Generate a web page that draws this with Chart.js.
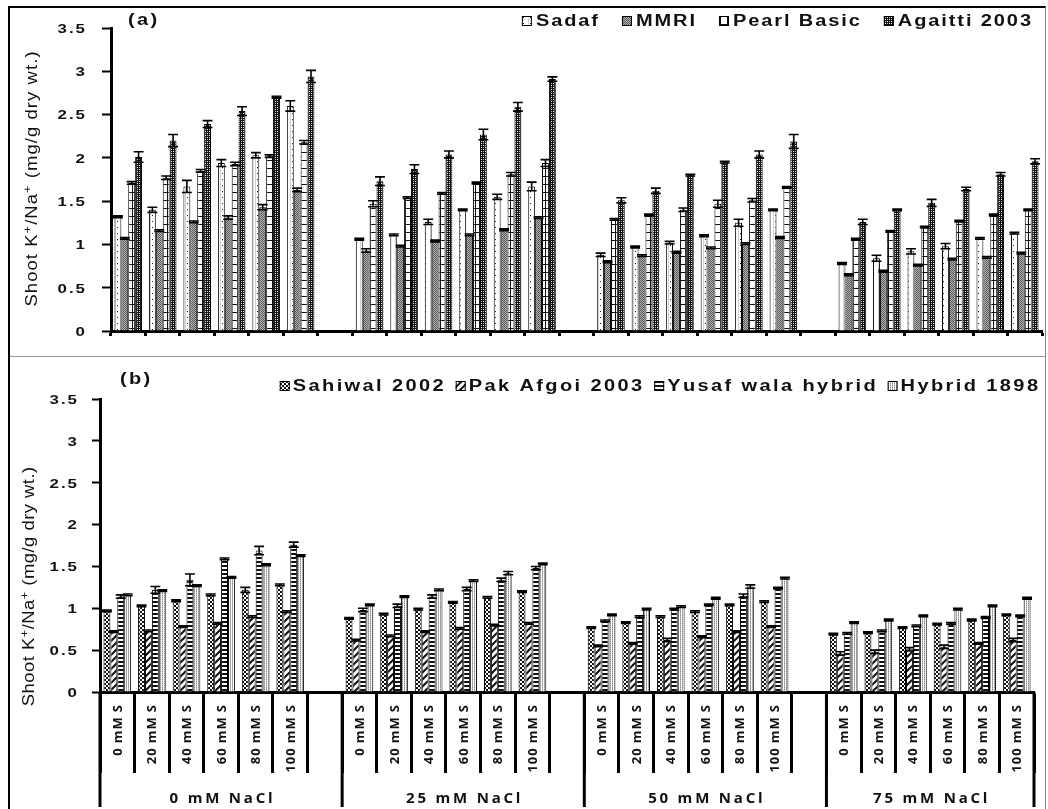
<!DOCTYPE html>
<html>
<head>
<meta charset="utf-8">
<title>Shoot K+/Na+ ratio</title>
<script src="https://cdn.jsdelivr.net/npm/chart.js@4.4.1/dist/chart.umd.min.js"></script>
<style>
  html, body { margin: 0; padding: 0; background: #fff; }
  #frame { position: absolute; left: 8px; top: 6px; width: 1035px;
           border-top: 2px solid #000; border-left: 2px solid #000; border-right: 1px solid #8a8a8a; }
  #pa { position: relative; width: 1035px; height: 348px; border-bottom: 1px solid #9a9a9a; }
  #pb { position: relative; width: 1035px; height: 452px; }
  canvas { display: block; }
</style>
</head>
<body>
<div id="frame">
  <div id="pa"><canvas id="chartA" width="1035" height="348"></canvas></div>
  <div id="pb"><canvas id="chartB" width="1035" height="452"></canvas></div>
</div>
<script>
// ---- categories ----
const SALT = ['0 mM NaCl', '25 mM NaCl', '50 mM NaCl', '75 mM NaCl'];
const SULPHUR = ['0 mM S', '20 mM S', '40 mM S', '60 mM S', '80 mM S', '100 mM S'];
const Y_TICK_LABELS = ['0', '0.5', '1', '1.5', '2', '2.5', '3', '3.5'];

// ---- panel (a) varieties ----
const VARIETIES_A = ['Sadaf', 'MMRI', 'Pearl Basic', 'Agaitti 2003'];
const sadaf      = [1.32, 1.40, 1.67, 1.94, 2.03, 2.60,  1.06, 1.11, 1.26, 1.40, 1.55, 1.67,  0.88, 0.97, 1.02, 1.10, 1.25, 1.40,  0.78, 0.84, 0.92, 0.98, 1.07, 1.13];
const sadafErr   = [0.01, 0.03, 0.07, 0.04, 0.03, 0.06,  0.01, 0.01, 0.03, 0.01, 0.03, 0.05,  0.02, 0.01, 0.015, 0.01, 0.04, 0.01, 0.01, 0.035, 0.03, 0.03, 0.01, 0.01];
const mmri       = [1.07, 1.16, 1.26, 1.31, 1.43, 1.63,  0.93, 0.98, 1.04, 1.11, 1.17, 1.31,  0.80, 0.87, 0.91, 0.96, 1.01, 1.08,  0.65, 0.69, 0.76, 0.83, 0.85, 0.90];
const mmriErr    = [0.01, 0.01, 0.01, 0.02, 0.03, 0.02,  0.02, 0.01, 0.01, 0.01, 0.01, 0.01,  0.01, 0.01, 0.01, 0.01, 0.01, 0.01,  0.01, 0.01, 0.01, 0.01, 0.01, 0.01];
const pearl      = [1.71, 1.77, 1.85, 1.93, 2.02, 2.18,  1.47, 1.54, 1.59, 1.71, 1.81, 1.94,  1.29, 1.34, 1.40, 1.47, 1.51, 1.66,  1.06, 1.15, 1.20, 1.27, 1.34, 1.40];
const pearlErr   = [0.015, 0.02, 0.015, 0.02, 0.015, 0.02, 0.035, 0.01, 0.01, 0.01, 0.02, 0.04, 0.01, 0.01, 0.02, 0.04, 0.02, 0.01, 0.01, 0.01, 0.01, 0.01, 0.01, 0.01];
const agaitti    = [2.01, 2.20, 2.39, 2.54, 2.70, 2.94,  1.73, 1.87, 2.04, 2.27, 2.59, 2.91,  1.51, 1.62, 1.80, 1.95, 2.04, 2.19,  1.26, 1.40, 1.48, 1.64, 1.81, 1.96];
const agaittiErr = [0.06, 0.07, 0.04, 0.05, 0.01, 0.07,  0.05, 0.05, 0.04, 0.06, 0.05, 0.025, 0.03, 0.03, 0.01, 0.01, 0.04, 0.08,  0.03, 0.01, 0.04, 0.02, 0.02, 0.03];

// ---- panel (b) varieties ----
const VARIETIES_B = ['Sahiwal 2002', 'Pak Afgoi 2003', 'Yusaf wala hybrid', 'Hybrid 1898'];
const sahiwal    = [0.97, 1.03, 1.09, 1.16, 1.22, 1.28,  0.88, 0.93, 0.99, 1.07, 1.13, 1.20,  0.77, 0.83, 0.90, 0.96, 1.04, 1.08,  0.69, 0.71, 0.77, 0.81, 0.86, 0.92];
const sahiwalErr = [0.01, 0.01, 0.01, 0.01, 0.03, 0.01,  0.01, 0.01, 0.01, 0.01, 0.01, 0.01,  0.01, 0.01, 0.01, 0.01, 0.01, 0.01,  0.01, 0.01, 0.01, 0.01, 0.01, 0.01];
const pakAfgoi   = [0.72, 0.73, 0.78, 0.82, 0.90, 0.96,  0.62, 0.67, 0.72, 0.76, 0.80, 0.82,  0.55, 0.58, 0.62, 0.66, 0.72, 0.78,  0.46, 0.48, 0.51, 0.54, 0.58, 0.62];
const pakErr     = [0.01, 0.01, 0.01, 0.01, 0.01, 0.01,  0.01, 0.01, 0.01, 0.01, 0.01, 0.01,  0.01, 0.01, 0.02, 0.01, 0.01, 0.01,  0.02, 0.02, 0.02, 0.02, 0.01, 0.02];
const yusaf      = [1.14, 1.22, 1.34, 1.59, 1.69, 1.76,  0.98, 1.03, 1.14, 1.23, 1.34, 1.48,  0.85, 0.90, 0.99, 1.04, 1.15, 1.24,  0.70, 0.73, 0.79, 0.82, 0.89, 0.91];
const yusafErr   = [0.02, 0.04, 0.07, 0.01, 0.05, 0.03,  0.02, 0.02, 0.02, 0.02, 0.02, 0.02,  0.01, 0.01, 0.01, 0.01, 0.02, 0.01,  0.01, 0.01, 0.01, 0.01, 0.01, 0.01];
const hybrid     = [1.16, 1.21, 1.27, 1.37, 1.52, 1.63,  1.04, 1.14, 1.22, 1.33, 1.42, 1.53,  0.92, 0.99, 1.02, 1.12, 1.26, 1.36,  0.83, 0.86, 0.91, 0.99, 1.03, 1.12];
const hybridErr  = [0.01, 0.01, 0.01, 0.01, 0.01, 0.01,  0.01, 0.01, 0.01, 0.01, 0.02, 0.01,  0.01, 0.01, 0.01, 0.01, 0.02, 0.01,  0.01, 0.01, 0.01, 0.01, 0.01, 0.01];

// Category axis: six sulphur levels per salt level, with an empty slot between salt groups.
const categories = [];
const groupStart = [];
SALT.forEach((s, g) => {
  groupStart.push(categories.length);
  SULPHUR.forEach(l => categories.push(l));
  if (g < SALT.length - 1) categories.push('');
});
function spread(vals) {
  let k = 0;
  return categories.map(c => (c === '' ? null : vals[k++]));
}

// ---- fill patterns ----
function tile(w, h, paint) {
  const c = document.createElement('canvas');
  c.width = w; c.height = h;
  const g = c.getContext('2d');
  g.fillStyle = '#fff'; g.fillRect(0, 0, w, h);
  paint(g);
  return g.createPattern(c, 'repeat');
}
const PAT = {
  sadaf: tile(7, 6, g => { g.fillStyle = '#222'; g.fillRect(2, 3, 1, 1); g.fillStyle = '#d0d0d0'; g.fillRect(0, 0, 1, 6); }),
  mmri: tile(2, 2, g => { g.fillStyle = '#585858'; g.fillRect(0, 0, 1, 1); g.fillRect(1, 1, 1, 1); g.fillStyle = '#b4b4b4'; g.fillRect(1, 0, 1, 1); g.fillRect(0, 1, 1, 1); }),
  pearl: tile(7, 8, g => { g.fillStyle = '#111'; g.fillRect(0, 0, 7, 1); g.fillRect(3, 0, 1, 8); }),
  agaitti: tile(4, 4, g => { g.fillStyle = '#111'; g.fillRect(0, 0, 4, 4); g.fillStyle = '#fff'; g.fillRect(1, 1, 1, 1); g.fillRect(3, 3, 1, 1); g.fillStyle = '#bbb'; g.fillRect(3, 1, 1, 1); g.fillRect(1, 3, 1, 1); }),
  sahiwal: tile(4, 4, g => { g.fillStyle = '#111'; g.fillRect(0, 0, 2, 2); g.fillRect(2, 2, 2, 2); }),
  pak: tile(7, 7, g => { g.strokeStyle = '#111'; g.lineWidth = 2; g.beginPath(); g.moveTo(-1, 8); g.lineTo(8, -1); g.moveTo(-1, 1); g.lineTo(1, -1); g.moveTo(6, 8); g.lineTo(8, 6); g.stroke(); }),
  yusaf: tile(2, 4, g => { g.fillStyle = '#111'; g.fillRect(0, 0, 2, 2); }),
  hybrid: tile(2, 2, g => { g.fillStyle = '#8a8a8a'; g.fillRect(0, 0, 1, 1); g.fillStyle = '#bdbdbd'; g.fillRect(0, 1, 1, 1); })
};

// ---- text helpers: wide, openly spaced lettering drawn glyph by glyph ----
const SANS = '"Liberation Sans", Arial, sans-serif';
const XSANS = '"Open Sans", "Liberation Sans", sans-serif';
function textWidth(ctx, s, o) {
  ctx.save();
  ctx.font = o.font;
  const chars = [...s];
  let w = 0;
  chars.forEach(ch => { w += ctx.measureText(ch).width * (o.sx || 1); });
  ctx.restore();
  return w + (o.ls || 0) * Math.max(0, chars.length - 1);
}
function drawText(ctx, s, x, y, o) {
  const w = textWidth(ctx, s, o);
  const sx = o.sx || 1, ls = o.ls || 0;
  ctx.save();
  ctx.font = o.font;
  ctx.fillStyle = o.color || '#000';
  ctx.textAlign = 'left';
  ctx.textBaseline = 'alphabetic';
  ctx.translate(x, y);
  if (o.rot) ctx.rotate(o.rot);
  let pos = o.align === 'center' ? -w / 2 : o.align === 'right' ? -w : 0;
  for (const ch of s) {
    ctx.save();
    ctx.translate(pos, o.dy || 0);
    ctx.scale(sx, 1);
    ctx.fillText(ch, 0, 0);
    ctx.restore();
    pos += ctx.measureText(ch).width * sx + ls;
  }
  ctx.restore();
  return w;
}

// Axis title with superscript charges, read bottom to top.
const Y_TITLE = [['Shoot K', false], ['+', true], ['/Na', false], ['+', true], [' (mg/g dry wt.)', false]];
function drawYTitle(ctx, baseX, centerY, ls) {
  const main = { font: '16px ' + SANS, sx: 1.15, ls: ls, color: '#111' };
  const sup = { font: '11px ' + SANS, sx: 1.15, ls: ls, color: '#111', dy: -6 };
  const widths = Y_TITLE.map(([t, s]) => textWidth(ctx, t, s ? sup : main) + ls);
  const total = widths.reduce((a, b) => a + b, 0) - ls;
  let pos = -total / 2;
  ctx.save();
  ctx.translate(baseX, centerY);
  ctx.rotate(-Math.PI / 2);
  Y_TITLE.forEach(([t, s], i) => {
    drawText(ctx, t, pos, 0, s ? sup : main);
    pos += widths[i];
  });
  ctx.restore();
}

function drawLegend(chart, o) {
  const ctx = chart.ctx, ds = chart.data.datasets;
  const style = { font: o.font, sx: o.sx, ls: o.ls, color: '#111' };
  const widths = ds.map(d => textWidth(ctx, d.label, style));
  const total = widths.reduce((a, w) => a + o.box + o.boxGap + w, 0) + o.itemGap * (ds.length - 1);
  let x = o.right - total;
  ds.forEach((d, i) => {
    ctx.save();
    ctx.fillStyle = d.backgroundColor;
    ctx.fillRect(x, o.y - o.box, o.box, o.box);
    ctx.strokeStyle = '#000'; ctx.lineWidth = 1;
    ctx.strokeRect(x + 0.5, o.y - o.box + 0.5, o.box - 1, o.box - 1);
    ctx.restore();
    x += o.box + o.boxGap;
    drawText(ctx, d.label, x, o.y, style);
    x += widths[i] + o.itemGap;
  });
}

function drawErrorBars(chart) {
  const ctx = chart.ctx, y = chart.scales.y;
  ctx.save();
  ctx.strokeStyle = '#000';
  ctx.lineWidth = 1.6;
  chart.data.datasets.forEach((d, i) => {
    chart.getDatasetMeta(i).data.forEach((el, j) => {
      const v = d.data[j], e = d.err[j];
      if (v == null || e == null) return;
      const top = y.getPixelForValue(v + e), bot = y.getPixelForValue(v - e);
      const half = el.width / 2 + 1.5;
      ctx.beginPath();
      ctx.moveTo(el.x, top); ctx.lineTo(el.x, bot);
      ctx.moveTo(el.x - half, top); ctx.lineTo(el.x + half, top);
      ctx.moveTo(el.x - half, bot); ctx.lineTo(el.x + half, bot);
      ctx.stroke();
    });
  });
  ctx.restore();
}

// Panel decorations: axis tick labels, title, legend, tag and (for b) the two-level category axis.
function panelPlugin(cfg) {
  return {
    id: 'panel_' + cfg.tag,
    afterDatasetsDraw(chart) { drawErrorBars(chart); },
    afterDraw(chart) {
      const ctx = chart.ctx, ys = chart.scales.y, xs = chart.scales.x, area = chart.chartArea;
      ys.ticks.forEach((t, i) => {
        drawText(ctx, Y_TICK_LABELS[i], area.left - cfg.tickGap, ys.getPixelForTick(i) + 4.8,
          { font: 'bold 13.5px ' + SANS, sx: 1.25, ls: 2.0, align: 'right', color: '#111' });
      });
      drawYTitle(ctx, cfg.titleX, chart.height / 2 + cfg.titleDY, cfg.titleLs);
      drawText(ctx, '(' + cfg.tag + ')', cfg.tagX, cfg.tagY, { font: 'bold 16px ' + SANS, sx: 1.25, ls: 2.3, color: '#111' });
      drawLegend(chart, cfg.legend);
      if (cfg.twoLevel) {
        const half = (xs.getPixelForValue(1) - xs.getPixelForValue(0)) / 2;
        categories.forEach((c, i) => {
          if (!c) return;
          drawText(ctx, c, xs.getPixelForValue(i) + 4.5, area.bottom + 13,
            { font: 'bold 13px ' + XSANS, ls: 0.9, align: 'right', rot: -Math.PI / 2, color: '#111' });
        });
        ctx.save();
        ctx.strokeStyle = '#000'; ctx.lineWidth = 3;
        const edges = groupStart.concat([categories.length]);
        edges.forEach(k => {
          const x = xs.getPixelForValue(k) - half;
          ctx.beginPath(); ctx.moveTo(x, area.bottom); ctx.lineTo(x, area.bottom + 115); ctx.stroke();
        });
        ctx.restore();
        SALT.forEach((s, g) => {
          const x0 = xs.getPixelForValue(edges[g]) - half, x1 = xs.getPixelForValue(edges[g + 1]) - half;
          drawText(ctx, s, (x0 + x1) / 2, area.bottom + 111,
            { font: 'bold 15px ' + XSANS, ls: 2.8, align: 'center', color: '#111' });
        });
      }
    }
  };
}

function makeChart(id, names, series, errors, patterns, cfg) {
  return new Chart(document.getElementById(id), {
    type: 'bar',
    data: {
      labels: categories,
      datasets: names.map((n, i) => ({
        label: n,
        data: spread(series[i]),
        err: spread(errors[i]),
        backgroundColor: patterns[i],
        borderColor: '#000',
        borderWidth: 1,
        categoryPercentage: 0.8,
        barPercentage: 1.0
      }))
    },
    options: {
      responsive: false,
      animation: false,
      events: [],
      layout: { padding: cfg.padding },
      plugins: { legend: { display: false }, tooltip: { enabled: false }, title: { display: false } },
      scales: {
        x: {
          offset: true,
          ticks: { display: false },
          grid: { display: true, offset: true, drawOnChartArea: false, drawTicks: true,
                  tickLength: cfg.xTickLength, tickWidth: 3, tickColor: '#000' },
          border: { display: true, color: '#000', width: 3 },
          afterFit(s) { s.height = cfg.xHeight; }
        },
        y: {
          min: 0, max: 3.5,
          ticks: { display: false, stepSize: 0.5 },
          grid: { drawOnChartArea: false, drawTicks: true, tickLength: cfg.yTickLength, tickWidth: 2, tickColor: '#000' },
          border: { display: true, color: '#000', width: 3 },
          afterFit(s) { s.width = cfg.yWidth; }
        }
      }
    },
    plugins: [panelPlugin(cfg)]
  });
}

makeChart('chartA', VARIETIES_A, [sadaf, mmri, pearl, agaitti], [sadafErr, mmriErr, pearlErr, agaittiErr],
  [PAT.sadaf, PAT.mmri, PAT.pearl, PAT.agaitti], {
    tag: 'a', tagX: 118, tagY: 17,
    padding: { top: 20, right: 3, left: 0, bottom: 0 },
    xHeight: 25, yWidth: 101, xTickLength: 5, yTickLength: 9, tickGap: 26,
    titleX: 27, titleDY: -3, titleLs: 1.1,
    legend: { right: 1021, y: 18, box: 10, boxGap: 4, itemGap: 24, font: 'bold 16px ' + SANS, sx: 1.25, ls: 1.9 },
    twoLevel: false
  });

makeChart('chartB', VARIETIES_B, [sahiwal, pakAfgoi, yusaf, hybrid], [sahiwalErr, pakErr, yusafErr, hybridErr],
  [PAT.sahiwal, PAT.pak, PAT.yusaf, PAT.hybrid], {
    tag: 'b', tagX: 110, tagY: 27,
    padding: { top: 42, right: 11, left: 0, bottom: 0 },
    xHeight: 117, yWidth: 90, xTickLength: 81, yTickLength: 8, tickGap: 23,
    titleX: 24, titleDY: 3.5, titleLs: 0.5,
    legend: { right: 1028, y: 34, box: 10, boxGap: 3, itemGap: 12, font: 'bold 16px ' + SANS, sx: 1.25, ls: 2.4 },
    twoLevel: true
  });
</script>
</body>
</html>
